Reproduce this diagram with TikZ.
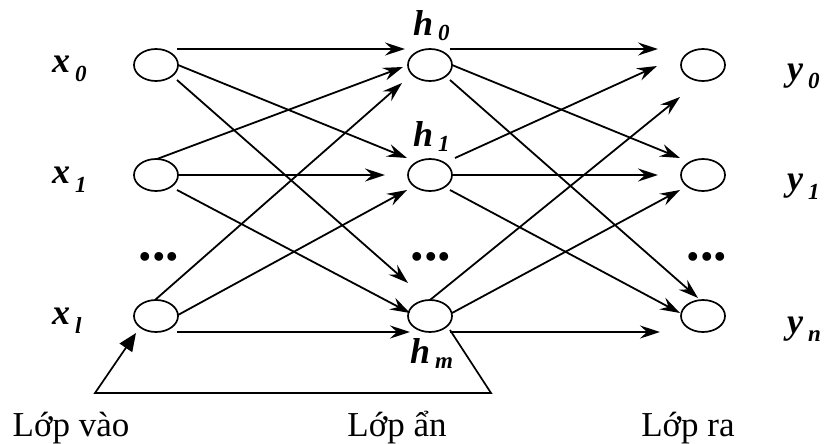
\documentclass[tikz,border=0pt]{standalone}
\usepackage{fontspec}
\setmainfont{Liberation Serif}
\usetikzlibrary{arrows.meta,shapes.geometric,calc}
\newcommand{\nnlbl}[3]{{\fontsize{36}{36}\selectfont\bfseries\itshape #1\hspace{5pt}\raisebox{-#3}{\fontsize{23}{23}\selectfont #2}}}
\begin{document}
\begin{tikzpicture}[x=1pt,y=-1pt,
  neuron/.style={ellipse,draw,line width=1.7pt,minimum width=44pt,minimum height=32pt,inner sep=0pt},
  conn/.style={line width=1.8pt,-{Stealth[length=20pt,width=13pt,inset=7pt]}},
  boldconn/.style={conn,line width=2.6pt},
  lab/.style={anchor=base west,inner sep=0pt},
  dotsnode/.style={font=\fontsize{54}{54}\selectfont\bfseries,inner sep=0pt},
  layer/.style={font=\fontsize{35}{35}\selectfont,anchor=base,inner sep=0pt}]
\fill[white] (0,0) rectangle (832,444);
\useasboundingbox (0,0) rectangle (832,444);

% neurons
\node[neuron] (x0) at (156,65) {};
\node[neuron] (x1) at (156,175) {};
\node[neuron] (xl) at (156,316) {};
\node[neuron] (h0) at (430,65) {};
\node[neuron] (h1) at (430,175) {};
\node[neuron] (hm) at (430,316) {};
\node[neuron] (y0) at (703,65) {};
\node[neuron] (y1) at (703,175) {};
\node[neuron] (yn) at (703,316) {};

% labels
\node[lab] (lx0) at (52,73) {\nnlbl{x}{0}{9pt}};
\node[lab] (lx1) at (52,183) {\nnlbl{x}{1}{9pt}};
\node[lab] (lxl) at (52,324) {\nnlbl{x}{l}{9pt}};
\node[lab] (lh0) at (413,36) {\nnlbl{h}{0}{5pt}};
\node[lab] (lh1) at (413,146) {\nnlbl{h}{1}{5pt}};
\node[lab] (lhm) at (410,363) {\nnlbl{h}{m}{5pt}};
\node[lab] (ly0) at (787,80) {\nnlbl{y}{0}{9pt}};
\node[lab] (ly1) at (787,190) {\nnlbl{y}{1}{9pt}};
\node[lab] (lyn) at (787,333) {\nnlbl{y}{n}{8pt}};

% dots
\node[dotsnode] (d1) at (159,257) {...};
\node[dotsnode] (d2) at (431,257) {...};
\node[dotsnode] (d3) at (707,257) {...};

% layer names
\node[layer] (t1) at (71,436) {Lớp vào};
\node[layer] (t2) at (397,436) {Lớp ẩn};
\node[layer] (t3) at (688,436) {Lớp ra};

% input -> hidden
\draw[conn] ($(x0)+(21,-16)$) -- ($(h0)+(-25,-16)$);
\draw[conn] ($(x0)+(22,0)$) -- ($(h1)+(-23,-17)$);
\draw[conn] ($(x0)+(21,15)$) -- ($(hm)+(-22,-33)$);
\draw[conn] ($(x1)+(1,-16)$) -- ($(h0)+(-27,2)$);
\draw[boldconn] ($(x1)+(22,0)$) -- ($(h1)+(-45,0)$);
\draw[conn] ($(x1)+(21,15)$) -- ($(hm)+(-20,-3)$);
\draw[conn] ($(xl)+(-1,-16)$) -- ($(h0)+(-28,18)$);
\draw[conn] ($(xl)+(22,-1)$) -- ($(h1)+(-23,15)$);
\draw[boldconn] ($(xl)+(21,16)$) -- ($(hm)+(-20,16)$);

% hidden -> output
\draw[conn] ($(h0)+(20,-16)$) -- ($(y0)+(-45,-16)$);
\draw[conn] ($(h0)+(22,0)$) -- ($(y1)+(-23,-17)$);
\draw[conn] ($(h0)+(20,15)$) -- ($(yn)+(-5,-18)$);
\draw[conn] ($(h1)+(25,-17)$) -- ($(y0)+(-46,1)$);
\draw[boldconn] ($(h1)+(22,0)$) -- ($(y1)+(-45,0)$);
\draw[conn] ($(h1)+(20,15)$) -- ($(yn)+(-23,-3)$);
\draw[conn] ($(hm)+(0,-16)$) -- ($(y0)+(-23,32)$);
\draw[conn] ($(hm)+(22,-3)$) -- ($(y1)+(-23,15)$);
\draw[boldconn] ($(hm)+(20,16)$) -- ($(yn)+(-43,16)$);

% feedback
\coordinate (fb1) at (491,393);
\coordinate (fb2) at (95,393);
\draw[line width=1.7pt,-{Triangle[length=18pt,width=15pt]}] ($(hm)+(20,14)$) -- (fb1) -- (fb2) -- ($(xl)+(-20,17)$);
\end{tikzpicture}
\end{document}
